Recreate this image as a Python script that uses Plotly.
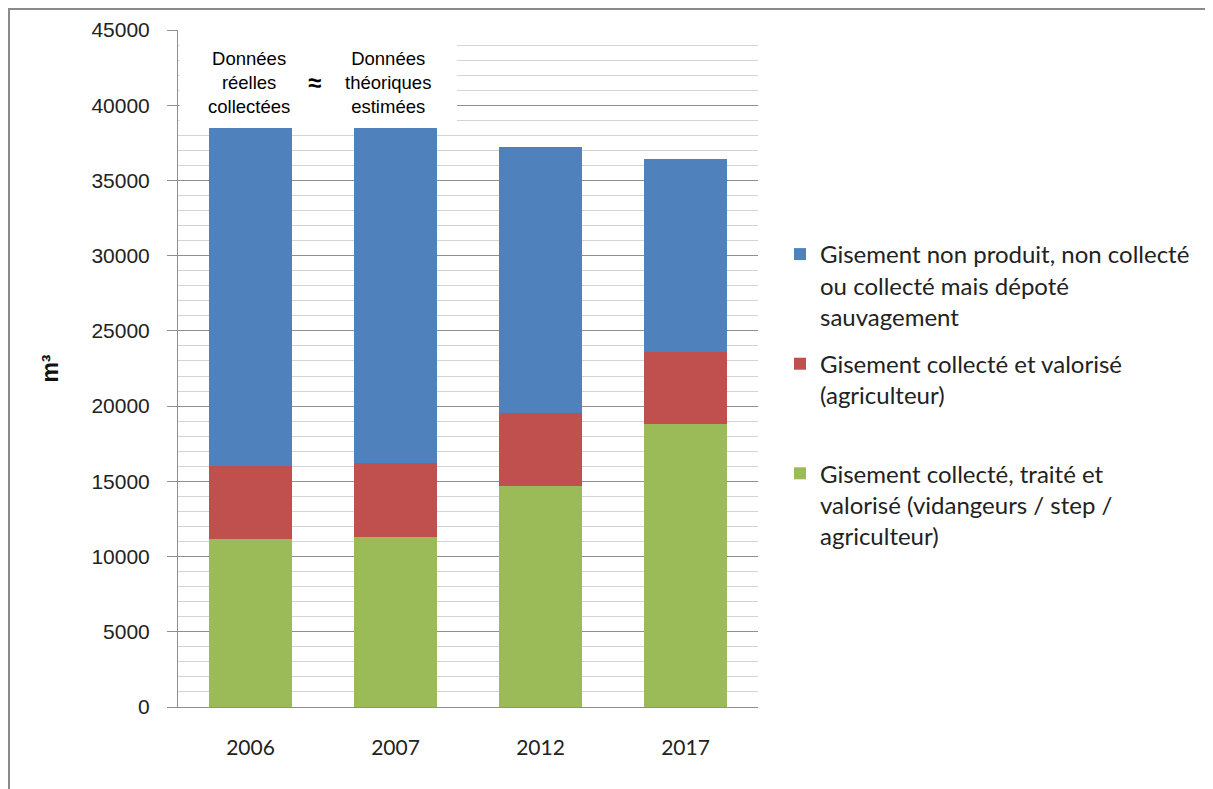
import plotly.graph_objects as go

years = ["2006", "2007", "2012", "2017"]
green_vals = [11200, 11300, 14700, 18800]
red_vals = [4800, 4900, 4850, 4800]
blue_vals = [22500, 22300, 17700, 12850]

names = [
    "Gisement collecté, traité et<br>valorisé (vidangeurs / step /<br>agriculteur)",
    "Gisement collecté et valorisé<br>(agriculteur)<br> ",
    "Gisement non produit, non collecté<br>ou collecté mais dépoté<br>sauvagement",
]
colors = ["#9BBB59", "#C0504D", "#4F81BD"]
ranks = [3, 2, 1]
series = [green_vals, red_vals, blue_vals]

fig = go.Figure()
for i, (vals, name, col, rk) in enumerate(zip(series, names, colors, ranks)):
    fig.add_trace(go.Bar(
        x=years, y=vals, name=name, marker=dict(color=col, line=dict(width=0)),
        legendrank=rk, legendgroup=f"g{i}",
    ))

# the page body adds an 8px offset; compensate
OFF = 8
W, H = 1213 - OFF, 789 - OFF
L, R, T, B = 178, 758, 30, 707  # plot area in reference pixels

def px(x):
    return (x - L) / (R - L)

def py(y):
    return (B - y) / (B - T)

fig.update_layout(
    width=W, height=H,
    barmode="stack", bargap=0.43,
    plot_bgcolor="white", paper_bgcolor="white",
    margin=dict(l=L - OFF, r=W - (R - OFF), t=T - OFF, b=H - (B - OFF), pad=0, autoexpand=False),
    font=dict(family="Lato", color="#222222"),
    legend=dict(
        x=px(780), xanchor="left", y=py(232), yanchor="top",
        traceorder="grouped", tracegroupgap=13,
        valign="top",
        font=dict(family="Lato", size=24, color="#222222"),
        bgcolor="rgba(0,0,0,0)",
    ),
    showlegend=True,
)

fig.update_yaxes(
    range=[0, 45000], dtick=5000, tick0=0, tickformat="d",
    showgrid=True, gridcolor="#8f8f8f", gridwidth=1,
    minor=dict(dtick=1000, showgrid=True, gridcolor="#d4d4d4", gridwidth=1),
    showline=True, linecolor="#8f8f8f", linewidth=1,
    ticks="outside", ticklen=10, tickcolor="#8f8f8f", ticklabelstandoff=13,
    tickfont=dict(family="Liberation Sans", size=21, color="#222222"),
    title=dict(text="<b>m³</b>", font=dict(family="Liberation Sans", size=23, color="#111111"), standoff=26),
    zeroline=False, automargin=False,
)
fig.update_xaxes(
    showline=True, linecolor="#8f8f8f", linewidth=1,
    ticks="", ticklabelstandoff=22, automargin=False,
    tickfont=dict(family="Lato", size=21, color="#222222"),
)

# white box behind the annotations (covers gridlines)
fig.add_shape(type="rect", xref="paper", yref="paper",
              x0=px(179.5), x1=px(457), y0=py(127), y1=py(32),
              fillcolor="white", line=dict(width=0), layer="above")
# outer chart border (kept inside the drawable page area)
fig.add_shape(type="rect", xref="paper", yref="paper",
              x0=px(9), x1=px(1209), y0=py(800), y1=py(9),
              fillcolor="rgba(0,0,0,0)", line=dict(color="#8a8a8a", width=2), layer="above")

ann_font = dict(family="Liberation Sans", size=18.5, color="#000000")
fig.add_annotation(xref="paper", yref="paper", x=px(249), y=py(82), xanchor="center", yanchor="middle",
                   text="Données<br>réelles<br>collectées", showarrow=False,
                   font=ann_font, align="center")
fig.add_annotation(xref="paper", yref="paper", x=px(388), y=py(82), xanchor="center", yanchor="middle",
                   text="Données<br>théoriques<br>estimées", showarrow=False,
                   font=ann_font, align="center")
fig.add_annotation(xref="paper", yref="paper", x=px(314), y=py(82), xanchor="center", yanchor="middle",
                   text="<b>≈</b>", showarrow=False,
                   font=dict(family="Liberation Sans", size=24, color="#000000"))

fig.write_html("out.html")
